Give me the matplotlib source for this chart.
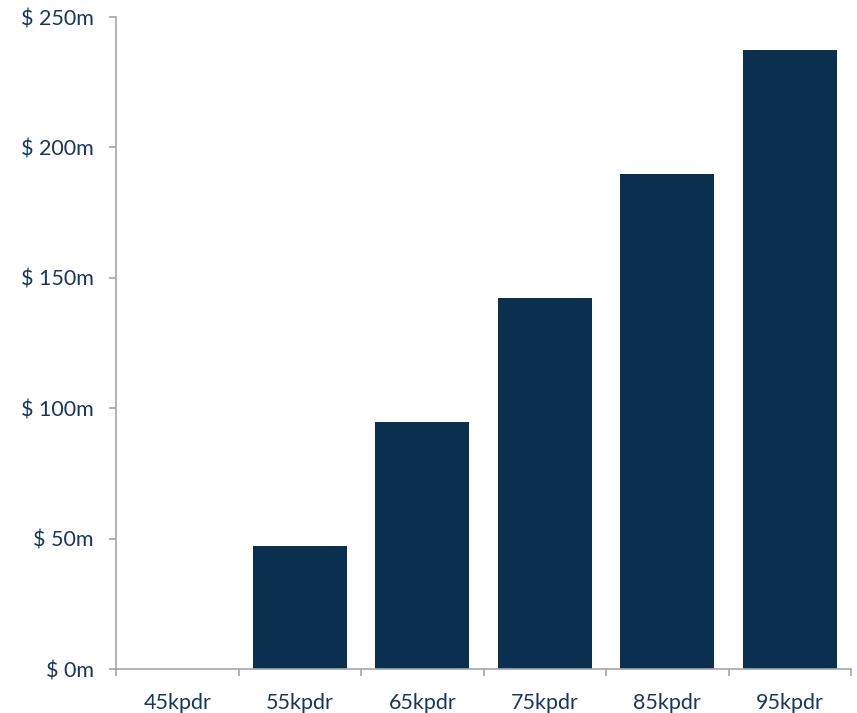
import matplotlib
matplotlib.use("Agg")
import matplotlib.pyplot as plt
from matplotlib.ticker import FixedLocator, FuncFormatter
import numpy as np

categories = ["45kpdr", "55kpdr", "65kpdr", "75kpdr", "85kpdr", "95kpdr"]
values = [0.0, 47.3, 94.7, 142.2, 189.7, 237.2]  # $ millions
y_ticks = [0, 50, 100, 150, 200, 250]

bar_color = "#0B2F4F"
text_color = "#17375E"
axis_color = "#A6A6A6"

plt.rcParams["font.family"] = ["Lato", "DejaVu Sans"]

fig = plt.figure(figsize=(8.57, 7.13), dpi=100)
ax = fig.add_axes([116 / 857, 44 / 713, 735 / 857, 652 / 713])

x = np.arange(len(categories))
ax.bar(x, values, width=0.77, color=bar_color, edgecolor="none")

ax.set_xlim(-0.5, len(categories) - 0.5)
ax.set_ylim(0, 250)

ax.set_yticks(y_ticks)
ax.yaxis.set_major_formatter(FuncFormatter(lambda v, p: f"$ {v:.0f}m"))
ax.set_xticks(x)
ax.set_xticklabels(categories)
ax.xaxis.set_minor_locator(FixedLocator(np.arange(len(categories) + 1) - 0.5))

ax.tick_params(axis="y", which="major", length=5, width=1.2, color=axis_color,
               labelsize=15.5, labelcolor=text_color, pad=11)
ax.tick_params(axis="x", which="major", length=0, labelsize=15.5,
               labelcolor=text_color, pad=17)
ax.tick_params(axis="x", which="minor", length=5, width=1.2, color=axis_color)

for side in ("top", "right"):
    ax.spines[side].set_visible(False)
for side in ("left", "bottom"):
    ax.spines[side].set_color(axis_color)
    ax.spines[side].set_linewidth(1.2)

fig.savefig("out.png", dpi=100, facecolor="white")
